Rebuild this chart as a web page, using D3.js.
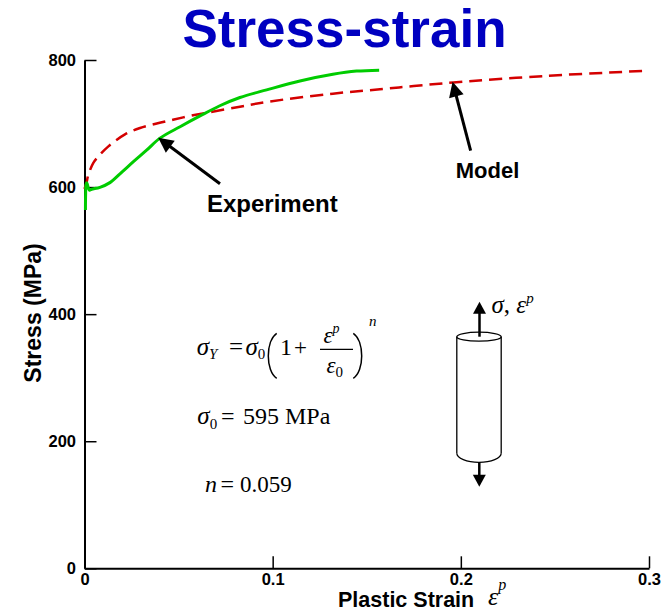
<!DOCTYPE html>
<html><head><meta charset="utf-8">
<script src="https://cdn.jsdelivr.net/npm/d3@7"></script>
<style>body{margin:0;background:#fff} svg{display:block}</style>
</head><body>
<svg id="c" width="672" height="611"></svg>
<script>
// ---- data ----
const strainTicks = [0, 0.1, 0.2, 0.3];
const strainTickLabels = ["0", "0.1", "0.2", "0.3"];
const stressTicks = [0, 200, 400, 600, 800];
const stressTickLabels = ["0", "200", "400", "600", "800"];
const expStrain = [0.0005, 0.0006, 0.0008, 0.0012, 0.0026, 0.0038, 0.0082, 0.0135, 0.020, 0.026, 0.033, 0.0401, 0.0508, 0.0614, 0.0719, 0.0826, 0.0968, 0.1145, 0.132, 0.1446, 0.1566];
const expStress = [564, 590, 604, 607, 595, 596.5, 599.6, 607, 624, 640, 658, 677, 695, 712, 728, 741, 753, 767, 777.5, 782.5, 784];
const modelStrain = [0.0, 0.001, 0.002, 0.0047, 0.0073, 0.0127, 0.0215, 0.0295, 0.0384, 0.047, 0.056, 0.065, 0.0826, 0.0968, 0.132, 0.157, 0.175, 0.196, 0.2456, 0.298];
const modelStress = [597, 606, 619, 638, 648, 664, 683, 693, 700, 706, 712, 717, 726.5, 734, 747, 754, 759, 764.6, 775, 783];

const svg = d3.select("#c");
const x = d3.scaleLinear().domain([0, 0.3]).range([84.5, 649]);
const y = d3.scaleLinear().domain([0, 800]).range([568.3, 60]);

const SANS = "'Liberation Sans', Arial, Helvetica, sans-serif";
const SERIF = "'Liberation Serif', 'Times New Roman', serif";

// title
svg.append("text").attr("x", 344.5).attr("y", 47).attr("text-anchor", "middle")
  .attr("font-family", SANS).attr("font-weight", "bold").attr("font-size", 53)
  .attr("fill", "#0000c0").text("Stress-strain");

// axes
const minorX = d3.range(0, 0.3001, 0.02).filter(v => Math.abs(v * 10 - Math.round(v * 10)) > 1e-6);
const minorY = d3.range(0, 800.1, 50).filter(v => v % 200 !== 0);

const gx = svg.append("g").attr("transform", `translate(0,${y(0)})`);
gx.call(d3.axisBottom(x).tickValues(minorX).tickSize(-6).tickFormat(""));
gx.call(d3.axisBottom(x).tickValues(strainTicks).tickSize(-12).tickSizeOuter(0).tickPadding(5)
  .tickFormat((d, i) => strainTickLabels[i]));
const gy = svg.append("g").attr("transform", `translate(${x(0)},0)`);
gy.call(d3.axisLeft(y).tickValues(minorY).tickSize(-6).tickFormat(""));
gy.call(d3.axisLeft(y).tickValues(stressTicks).tickSize(-12).tickSizeOuter(0).tickPadding(8.5)
  .tickFormat((d, i) => stressTickLabels[i]));
svg.selectAll(".domain").attr("stroke", "#000").attr("stroke-width", 2);
svg.selectAll(".tick line").attr("stroke", "#000").attr("stroke-width", 1.5);
svg.selectAll(".tick text").attr("font-family", SANS).attr("font-weight", "bold")
  .attr("font-size", 16.5).attr("fill", "#000");

// axis titles
svg.append("text").attr("transform", "translate(41,313) rotate(-90)").attr("text-anchor", "middle")
  .attr("font-family", SANS).attr("font-weight", "bold").attr("font-size", 23).text("Stress (MPa)");
svg.append("text").attr("x", 338).attr("y", 607)
  .attr("font-family", SANS).attr("font-weight", "bold").attr("font-size", 21.5).text("Plastic Strain");
const xl = svg.append("text").attr("x", 488).attr("y", 605).attr("font-family", SERIF)
  .attr("font-style", "italic").attr("font-size", 26);
xl.append("tspan").text("ε");
xl.append("tspan").attr("dy", -15).attr("font-size", 16).text("p");

// curves
const line = d3.line().x(d => x(d[0])).y(d => y(d[1])).curve(d3.curveCatmullRom.alpha(0.5));
svg.append("path").datum(modelStrain.map((v, i) => [v, modelStress[i]]))
  .attr("d", line).attr("fill", "none").attr("stroke", "#d40000").attr("stroke-width", 2.5)
  .attr("stroke-dasharray", "13,7");
svg.append("path").datum(expStrain.map((v, i) => [v, expStress[i]]))
  .attr("d", line).attr("fill", "none").attr("stroke", "#00cc00").attr("stroke-width", 3);

// arrows
function arrow(x1, y1, x2, y2, len, hw, sw) {
  const dx = x2 - x1, dy = y2 - y1, L = Math.hypot(dx, dy);
  const ux = dx / L, uy = dy / L;
  const bx = x2 - ux * len, by = y2 - uy * len;
  svg.append("line").attr("x1", x1).attr("y1", y1).attr("x2", bx + ux * 2).attr("y2", by + uy * 2)
    .attr("stroke", "#000").attr("stroke-width", sw);
  svg.append("path").attr("d", `M${x2},${y2}L${bx - uy * hw},${by + ux * hw}L${bx + uy * hw},${by - ux * hw}Z`)
    .attr("fill", "#000");
}
arrow(x(0.072), y(605.3), x(0.0392), y(677.7), 15, 7.5, 3);
arrow(x(0.2052), y(657.2), x(0.1956), y(765.8), 15, 7.5, 3);

svg.append("text").attr("x", x(0.0651)).attr("y", y(560.8))
  .attr("font-family", SANS).attr("font-weight", "bold").attr("font-size", 24).text("Experiment");
svg.append("text").attr("x", x(0.1973)).attr("y", y(614.2))
  .attr("font-family", SANS).attr("font-weight", "bold").attr("font-size", 22).text("Model");

// equations
function t(xp, yp, size) {
  return svg.append("text").attr("x", xp).attr("y", yp).attr("font-family", SERIF).attr("font-size", size);
}
function sub(g, base, s, italicBase, italicSub, size, dy) {
  g.append("tspan").attr("font-style", italicBase ? "italic" : "normal").text(base);
  g.append("tspan").attr("font-style", italicSub ? "italic" : "normal").attr("font-size", size).attr("dy", dy).text(s);
}
sub(t(196.7, 355, 25), "σ", "Y", true, true, 15, 4);
t(229, 355, 25).text("=");
sub(t(245.5, 355, 25), "σ", "0", true, false, 15, 4);
t(280, 355, 24).text("1");
t(294, 355, 23).text("+");
sub(t(323.5, 343, 23), "ε", "p", true, true, 14, -10);
svg.append("line").attr("x1", 320).attr("x2", 353).attr("y1", 349.3).attr("y2", 349.3).attr("stroke", "#000").attr("stroke-width", 1.2);
sub(t(326.5, 372.7, 23), "ε", "0", true, false, 15, 4);
t(369, 326, 15).attr("font-style", "italic").text("n");
svg.append("path").attr("d", "M276.7,333.3C265.5,341 265.5,371 276.7,378.3").attr("fill", "none").attr("stroke", "#000").attr("stroke-width", 1.5);
svg.append("path").attr("d", "M353.3,333.3C364.5,341 364.5,371 353.3,378.3").attr("fill", "none").attr("stroke", "#000").attr("stroke-width", 1.5);

sub(t(197.3, 424, 25), "σ", "0", true, false, 15, 5);
t(221, 424, 24).text("=");
t(243, 424, 24).text("595");
t(285, 424, 24).text("MPa");

t(205, 491.7, 24).attr("font-style", "italic").text("n");
t(220.5, 491.7, 24).text("=");
t(240, 491.7, 23).text("0.059");

// cylinder
const cg = svg.append("g").attr("fill", "none").attr("stroke", "#000").attr("stroke-width", 1.3);
cg.append("ellipse").attr("cx", 479).attr("cy", 336.7).attr("rx", 22.2).attr("ry", 4.5);
cg.append("line").attr("x1", 456.8).attr("x2", 456.8).attr("y1", 336.7).attr("y2", 453.3);
cg.append("line").attr("x1", 501.2).attr("x2", 501.2).attr("y1", 336.7).attr("y2", 453.3);
cg.append("path").attr("d", "M456.8,453.3A22.2,9 0 0 0 501.2,453.3");
arrow(479.5, 336.7, 479.5, 301.7, 12, 6.5, 2.5);
arrow(479.3, 462.3, 479.3, 486.7, 12, 6.5, 2.5);
const cl = t(491.5, 313, 25);
cl.append("tspan").attr("font-style", "italic").text("σ");
cl.append("tspan").text(", ");
cl.append("tspan").attr("font-style", "italic").text("ε");
cl.append("tspan").attr("font-style", "italic").attr("font-size", 15).attr("dy", -10).text("p");
</script>
</body></html>
